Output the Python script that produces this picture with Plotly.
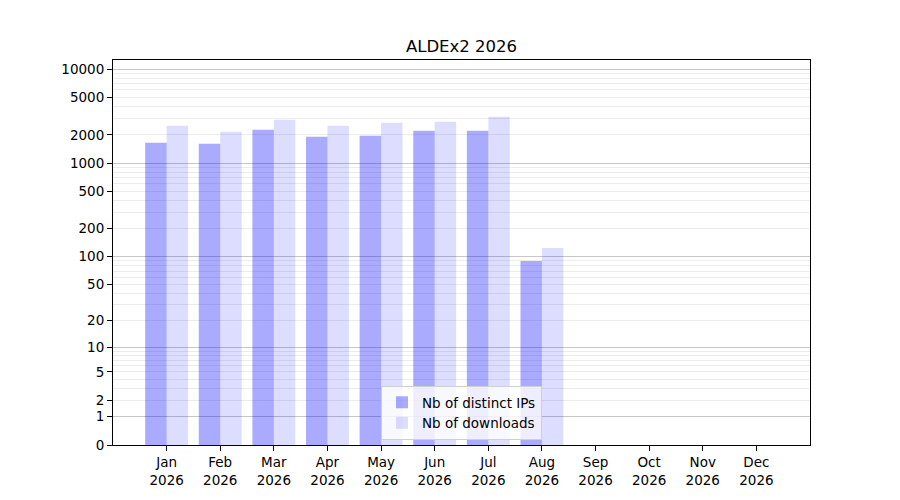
import plotly.graph_objects as go

# monthly stats
months = ['Jan', 'Feb', 'Mar', 'Apr', 'May', 'Jun', 'Jul', 'Aug', 'Sep', 'Oct', 'Nov', 'Dec']
year = '2026'
distinct_ips = [1643, 1605, 2262, 1905, 1953, 2208, 2208, 90]
downloads = [2496, 2154, 2892, 2496, 2687, 2753, 3112, 124]

# y axis labels (log(1 + x) scale)
y_labels = [0, 1, 2, 5, 10, 20, 50, 100, 200, 500, 1000, 2000, 5000, 10000]
y_major = [1, 10, 100, 1000, 10000]
y_minor = [m * d for d in [1, 10, 100, 1000] for m in range(2, 10)]

font = 'DejaVu Sans'
x_pos = list(range(1, len(months) + 1))

fig = go.Figure()
# values are shifted by 1 and drawn on a log axis to get the log(1 + x) scale
fig.add_trace(go.Bar(
    x=x_pos[:len(distinct_ips)], y=[v + 1 for v in distinct_ips],
    name='Nb of distinct IPs', marker=dict(color='rgba(0,0,255,0.333)', line=dict(width=0)),
))
fig.add_trace(go.Bar(
    x=x_pos[:len(downloads)], y=[v + 1 for v in downloads],
    name='Nb of downloads', marker=dict(color='rgba(0,0,255,0.133)', line=dict(width=0)),
))
# dummy trace so the overlay axis with the decade grid gets drawn
fig.add_trace(go.Scatter(x=[None], y=[None], yaxis='y2', showlegend=False, hoverinfo='skip'))

y_top = 4.097

# page body has an 8px margin, so the figure is a bit smaller than the window
fig.update_layout(
    width=884, height=484,
    paper_bgcolor='white', plot_bgcolor='white',
    margin=dict(l=105, r=82, t=52, b=47),
    font=dict(family=font, size=14, color='black'),
    title=dict(text='ALDEx2 2026', xref='paper', x=0.5, xanchor='center',
               y=0.9215, yanchor='middle',
               font=dict(family=font, size=16.5, color='black')),
    barmode='group', bargap=0.2, bargroupgap=0,
    xaxis=dict(
        range=[0, 13], tickvals=x_pos,
        ticktext=[f'{m}<br>{year}' for m in months],
        showgrid=False, zeroline=False, automargin=False,
        showline=True, linecolor='black', linewidth=1, mirror=True,
        ticks='outside', ticklen=5, tickcolor='black',
        tickfont=dict(family=font, size=13.5),
    ),
    yaxis=dict(
        type='log', range=[0, y_top], automargin=False,
        tickvals=[v + 1 for v in y_labels], ticktext=[str(v) for v in y_labels],
        showgrid=False, zeroline=False,
        showline=True, linecolor='black', linewidth=1, mirror=True,
        ticks='outside', ticklen=5, tickcolor='black',
        tickfont=dict(family=font, size=13.5),
        minor=dict(tickvals=[v + 1 for v in y_minor], showgrid=True,
                   gridcolor='#ececec', gridwidth=1, ticks=''),
    ),
    yaxis2=dict(
        type='log', range=[0, y_top], overlaying='y', side='left',
        tickvals=[v + 1 for v in y_major], showticklabels=False, ticks='',
        showgrid=True, gridcolor='rgba(0,0,0,0.22)', gridwidth=1,
        zeroline=False, showline=False, automargin=False,
    ),
    legend=dict(
        x=0.5, xanchor='center', y=0.013, yanchor='bottom',
        bgcolor='rgba(255,255,255,0.8)', bordercolor='#d0d0d0', borderwidth=1,
        font=dict(family=font, size=13.5),
    ),
)

fig.write_html('out.html')
